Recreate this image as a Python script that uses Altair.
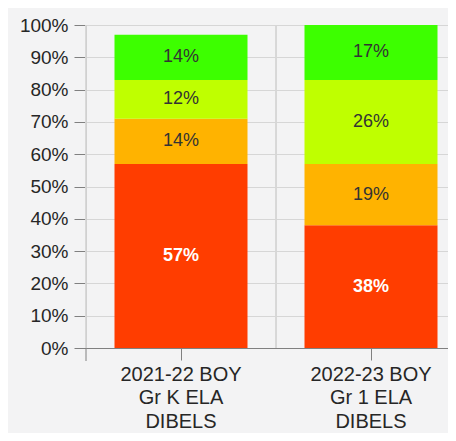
import altair as alt
import pandas as pd

categories = ["2021-22 BOY\nGr K ELA\nDIBELS", "2022-23 BOY\nGr 1 ELA\nDIBELS"]
levels = ["Well Below Benchmark", "Below Benchmark", "At Benchmark", "Above Benchmark"]
level_colors = ["#ff3d00", "#ffb300", "#bfff00", "#3dff00"]
values_2021 = [57, 14, 12, 14]
values_2022 = [38, 19, 26, 17]
y_ticks = [0, 10, 20, 30, 40, 50, 60, 70, 80, 90, 100]

rows = []
for cat, vals in zip(categories, [values_2021, values_2022]):
    for i, (lev, v) in enumerate(zip(levels, vals)):
        rows.append({"cat": cat, "level": lev, "order": i, "value": v})
df = pd.DataFrame(rows)

FONT = "Liberation Sans"
BG = "#f3f3f4"
PLOT_H = 323
GRID = "#d6d6d6"
AXIS_C = "#808080"

x_scale = alt.Scale(domain=categories, range=[0, 380], paddingInner=0, paddingOuter=0)
y_scale = alt.Scale(domain=[0, 100], nice=False)

x_axis = alt.Axis(
    labelExpr="split(datum.label, '\\n')",
    labelAngle=0,
    labelFont=FONT,
    labelFontSize=20,
    labelColor="#262626",
    labelLineHeight=23.5,
    labelBaseline="top",
    labelPadding=4,
    tickSize=12,
    tickColor=AXIS_C,
    domainColor=AXIS_C,
    grid=False,
    title=None,
)
y_axis = alt.Axis(
    values=y_ticks,
    labelExpr="datum.value + '%'",
    labelFont=FONT,
    labelFontSize=19,
    labelColor="#262626",
    labelPadding=6,
    tickSize=12,
    tickColor=AXIS_C,
    domainColor=AXIS_C,
    gridColor=GRID,
    title=None,
)

base = alt.Chart(df)

grid_v = base.mark_rule(color=GRID, strokeWidth=1).encode(
    x=alt.X("cat:N", scale=x_scale, bandPosition=0, axis=x_axis),
    y=alt.value(0),
    y2=alt.value(PLOT_H),
)

bars = base.mark_bar(stroke=None, width={"band": 0.7}).encode(
    x=alt.X("cat:N", scale=x_scale, axis=x_axis),
    y=alt.Y("value:Q", stack="zero", scale=y_scale, axis=y_axis),
    color=alt.Color("level:N", scale=alt.Scale(domain=levels, range=level_colors), legend=None),
    order=alt.Order("order:Q"),
)

labels_base = base.transform_stack(
    stack="value", groupby=["cat"], sort=[alt.SortField("order")], as_=["y0", "y1"]
).transform_calculate(mid="(datum.y0 + datum.y1) / 2", txt="datum.value + '%'")

labels_dark = labels_base.transform_filter("datum.order > 0").mark_text(
    font=FONT, fontSize=18, color="#333333", baseline="middle"
).encode(
    x=alt.X("cat:N", scale=x_scale, axis=x_axis),
    y=alt.Y("mid:Q", scale=y_scale, axis=y_axis),
    text="txt:N",
)

labels_white = labels_base.transform_filter("datum.order == 0").mark_text(
    font=FONT, fontSize=18, fontWeight="bold", color="#ffffff", baseline="middle"
).encode(
    x=alt.X("cat:N", scale=x_scale, axis=x_axis),
    y=alt.Y("mid:Q", scale=y_scale, axis=y_axis),
    text="txt:N",
)

axis_ext = alt.Chart(pd.DataFrame({"a": [0]})).mark_rule(color=AXIS_C).encode(
    x=alt.value(0), y=alt.value(PLOT_H), y2=alt.value(PLOT_H + 13)
)

chart = alt.layer(grid_v, bars, labels_dark, labels_white, axis_ext).properties(
    width=362,
    height=PLOT_H,
    background=BG,
    padding={"left": 78, "top": 17, "right": 0, "bottom": 85},
    autosize=alt.AutoSizeParams(type="none"),
).configure_view(stroke=None, fill=BG)

chart.save("out.html", embed_options={"renderer": "svg", "actions": False})
